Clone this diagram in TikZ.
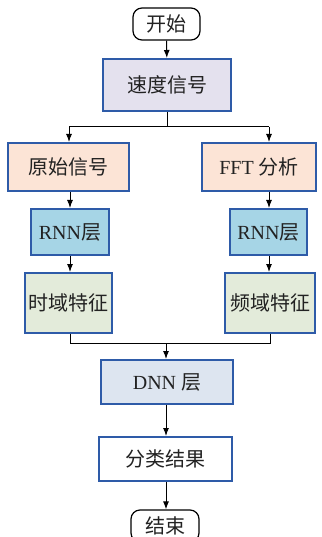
\documentclass[tikz,border=0pt]{standalone}
\usepackage{fontspec}
\setmainfont{Liberation Serif}
\newfontfamily\cjk{Noto Sans CJK SC}
\usetikzlibrary{arrows.meta}
\definecolor{bordblue}{HTML}{2E5BA8}
\definecolor{lav}{HTML}{E4E1EE}
\definecolor{peach}{HTML}{FCE4D6}
\definecolor{rnnblue}{HTML}{A6D5E6}
\definecolor{lgreen}{HTML}{E3EBDA}
\definecolor{dnnblue}{HTML}{DDE5F0}
\definecolor{txt}{HTML}{222222}
\begin{document}
\begin{tikzpicture}[x=1pt,y=-1pt,
  base/.style={inner sep=0pt, align=center, text=txt, font=\fontsize{20}{22}\selectfont},
  termbox/.style={base, draw=black, line width=1.2pt, rounded corners=9pt, fill=white},
  procbox/.style={base, draw=bordblue, line width=2pt},
  conn/.style={line width=1pt, draw=black},
  arr/.style={conn, -{Latex[length=8pt,width=6pt]}}
]
\useasboundingbox (0,0) rectangle (321,537);
\node[termbox, minimum width=67pt, minimum height=32pt] (start) at (166.5,24) {\cjk 开始};
\node[procbox, fill=lav, minimum width=128pt, minimum height=52pt] (sig) at (167,85) {\cjk 速度信号};
\node[procbox, fill=peach, minimum width=121pt, minimum height=48pt] (orig) at (68.5,167) {\cjk 原始信号};
\node[procbox, fill=peach, minimum width=114pt, minimum height=48pt] (fft) at (259,167) {FFT {\cjk 分析}};
\node[procbox, fill=rnnblue, minimum width=78pt, minimum height=46pt] (rnn1) at (70,232) {RNN{\cjk 层}};
\node[procbox, fill=rnnblue, minimum width=77pt, minimum height=46pt] (rnn2) at (268.5,232) {RNN{\cjk 层}};
\node[procbox, fill=lgreen, minimum width=87pt, minimum height=60pt] (td) at (68.5,303) {\cjk 时域特征};
\node[procbox, fill=lgreen, minimum width=90pt, minimum height=60pt] (fd) at (270,303) {\cjk 频域特征};
\node[procbox, fill=dnnblue, minimum width=132pt, minimum height=44pt] (dnn) at (167,382) {DNN {\cjk 层}};
\node[procbox, fill=white, minimum width=133pt, minimum height=44pt] (cls) at (165.5,459) {\cjk 分类结果};
\node[termbox, minimum width=68pt, minimum height=32pt] (end) at (165,526) {\cjk 结束};
\coordinate (bl) at (69,127);
\coordinate (br) at (269,127);
\coordinate (m) at (166,343);
\draw[arr] (start) -- (sig);
\draw[conn] (sig.south) -- (sig.south |- bl);
\draw[conn] (bl) -- (br);
\draw[arr] (bl) -- (bl |- orig.north);
\draw[arr] (br) -- (br |- fft.north);
\draw[arr] (rnn1.north |- orig.south) -- (rnn1.north);
\draw[arr] (br |- fft.south) -- (br |- rnn2.north);
\draw[arr] (rnn1.south) -- (rnn1.south |- td.north);
\draw[arr] (br |- rnn2.south) -- (br |- fd.north);
\draw[conn] (rnn1.south |- td.south) -- (rnn1.south |- m) -- (fd.south |- m) -- (fd.south);
\draw[arr] (m) -- (m |- dnn.north);
\draw[arr] (dnn.south -| m) -- (m |- cls.north);
\draw[arr] (cls.south -| m) -- (m |- end.north);
\end{tikzpicture}
\end{document}
